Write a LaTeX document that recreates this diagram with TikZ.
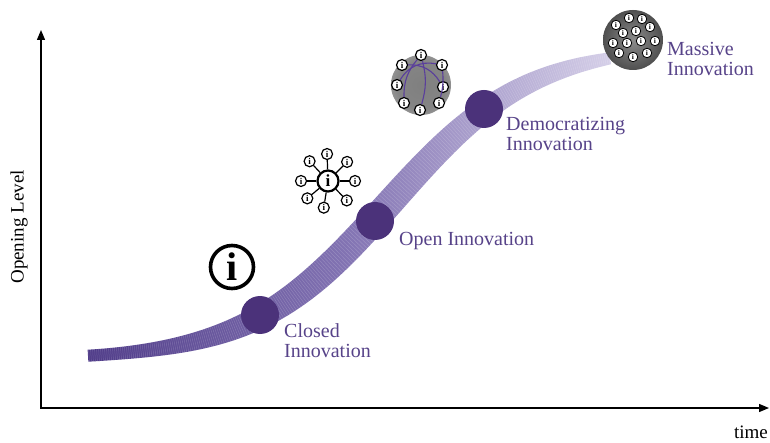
\documentclass[tikz,border=0pt]{standalone}
\usepackage{fontspec}
\setmainfont{Liberation Serif}
\usetikzlibrary{arrows.meta}

\definecolor{stagecol}{HTML}{4B327A}
\definecolor{labelcol}{HTML}{574389}
\definecolor{bandA}{HTML}{4E3A88}
\definecolor{bandB}{HTML}{8374B3}
\definecolor{bandC}{HTML}{D5CFE8}
\definecolor{linkcol}{HTML}{5A3E9C}

\pgfdeclareradialshading{greyhaze}{\pgfpointorigin}{color(0bp)=(black!50); color(20bp)=(black!48); color(36bp)=(black!32); color(50bp)=(white)}
\pgfdeclareradialshading{darkhaze}{\pgfpointorigin}{color(0bp)=(black!45); color(28bp)=(black!72); color(43bp)=(black!78); color(50bp)=(white)}

\tikzset{
  axis/.style={line width=1.3pt, {Triangle[length=10pt,width=8pt]}-{Triangle[length=10pt,width=8pt]}},
  axislabel/.style={inner sep=0pt, font=\fontsize{19}{19}\selectfont},
  stage/.style={circle, fill=stagecol, minimum size=38pt, inner sep=0pt},
  stagelabel/.style={anchor=base west, align=left, inner sep=0pt, text=labelcol, font=\fontsize{20}{20}\selectfont},
  info/.style={circle, draw=black, fill=white, line width=1.2pt, inner sep=0pt, minimum size=11pt, font=\bfseries\fontsize{9}{9}\selectfont},
  infotiny/.style={info, line width=0.8pt, minimum size=9.5pt, font=\bfseries\fontsize{7.5}{7.5}\selectfont},
  spoke/.style={line width=1.2pt},
  link/.style={draw=linkcol, line width=1.1pt},
  hatch/.style={white, line width=0.5pt, opacity=0.18},
}

\begin{document}
\begin{tikzpicture}[x=1pt, y=-1pt,
  declare function={
    sg(\x)=1/(1+exp(-(\x-390)/70.5));
    yc(\x)=360-315*sg(\x);
    sl(\x)=-315*sg(\x)*(1-sg(\x))/70.5;
    nr(\x)=sqrt(1+sl(\x)*sl(\x));
    bump(\x)=sin((\x-88)/522*180);
    hw(\x)=6+8*((\x<349)*bump(\x)*bump(\x)+(\x>=349)*bump(\x));
  }]
\useasboundingbox (0,0) rectangle (770,443);

% axes
\coordinate (origin) at (41,408);
\coordinate (ytip) at (41,30);
\coordinate (xtip) at (769,408);
\draw[axis] (ytip) -- (origin) -- (xtip);
\node[axislabel, rotate=90] (ylbl) at (19,227) {Opening Level};
\node[axislabel] (xlbl) at (751,432) {time};

% the s-curve band
\shade[left color=bandA, right color=bandC, middle color=bandB]
  plot[domain=88:610, samples=90] ({\x+hw(\x)*sl(\x)/nr(\x)},{yc(\x)-hw(\x)/nr(\x)})
  -- plot[domain=610:88, samples=90] ({\x-hw(\x)*sl(\x)/nr(\x)},{yc(\x)+hw(\x)/nr(\x)})
  -- cycle;
\foreach \x in {89,91,...,609}
  \draw[hatch] ({\x+hw(\x)*sl(\x)/nr(\x)},{yc(\x)-hw(\x)/nr(\x)})
    -- ({\x-hw(\x)*sl(\x)/nr(\x)},{yc(\x)+hw(\x)/nr(\x)});

% stages
\node[stage] (closed) at (260,315) {};
\node[stage] (open) at (375,221) {};
\node[stage] (democ) at (484,109) {};

\node[stagelabel] (closedlbl) at (284,357) {Closed\\Innovation};
\node[stagelabel] (openlbl) at (399,246) {Open Innovation};
\node[stagelabel] (democlbl) at (506,151) {Democratizing\\Innovation};
\node[stagelabel] (masslbl) at (667,76) {Massive\\Innovation};

% closed: one source
\node[info, minimum size=43pt, line width=3.6pt, font=\bfseries\fontsize{40}{40}\selectfont] (bigi) at (232,267) {i};

% open: hub and spokes
\node[info, minimum size=21pt, line width=2.2pt, font=\bfseries\fontsize{17}{17}\selectfont] (hub) at (328,181) {i};
\foreach \a [count=\k] in {-92,-45,0,46,99,140,180,-133}
  \node[info] (sat\k) at ([shift={(\a:27)}]hub) {i};
\foreach \k in {1,...,8}
  \draw[spoke] (hub) -- (sat\k);

% democratizing: linked ring
\coordinate (dcore) at (421,85);
\shade[shading=greyhaze] (dcore) circle (30);
\foreach \dx/\dy [count=\k] in {0/-30,-19/-20,21/-20,-24/0,22/2,-17/18,18/18,-1/25}
  \node[info] (d\k) at ([shift={(\dx,\dy)}]dcore) {i};
\draw[link] (d1) to[bend right=20] (d6);
\draw[link] (d1) to[bend left=15] (d8);
\draw[link] (d2) to[bend left=30] (d5);
\draw[link] (d4) to[bend left=35] (d3);
\draw[link] (d3) to[bend left=10] (d7);

% massive: crowd
\coordinate (mcore) at (633,40);
\shade[shading=darkhaze] (mcore) circle (30);
\foreach \dx/\dy [count=\k] in {-4/-22,9/-21,-17/-15,17/-13,3/-9,-10/-7,-20/3,-6/3,8/1,22/1,-14/13,0/17,14/13}
  \node[infotiny] (m\k) at ([shift={(\dx,\dy)}]mcore) {i};
\end{tikzpicture}
\end{document}
